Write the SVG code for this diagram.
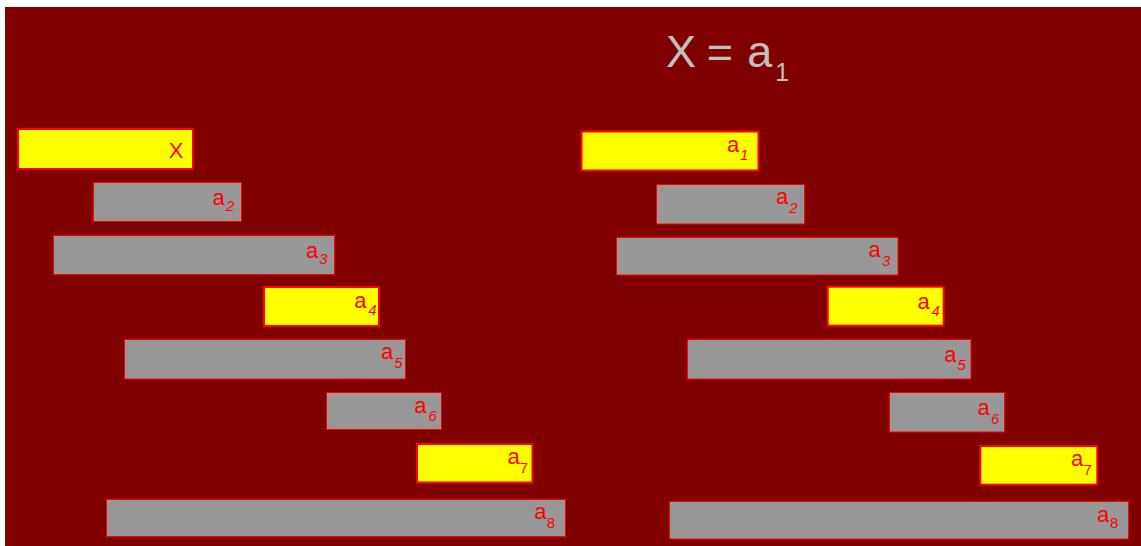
<svg xmlns="http://www.w3.org/2000/svg" width="1141" height="546" viewBox="0 0 1141 546">
<style>
.bg{fill:#800000}
.sel{fill:#ffff00;stroke:#ff0000;stroke-width:2}
.gr{fill:#979797;stroke:#ff0000;stroke-width:1}
.lb{font-family:"Liberation Sans",Arial,sans-serif;font-size:22px;fill:#ff0000}
.sb{font-size:15px;font-style:italic}
.su{font-size:15px}
.ti{font-family:"Liberation Sans",Arial,sans-serif;font-size:45px;fill:#c0c0c0}
</style>
<rect width="1141" height="546" fill="#ffffff"/>
<rect class="bg" x="5" y="7" width="1136" height="539"/>
<g id="title"><text class="ti"><tspan x="666" y="66.7">X</tspan><tspan x="706.7" y="66.7">=</tspan><tspan x="747.3" y="66.7">a</tspan><tspan x="775.3" y="81" font-size="25">1</tspan></text></g>
<g id="left">
<g id="L-X"><rect class="sel" x="18" y="129" width="175" height="40"/><text class="lb" x="168.8" y="158">X</text></g>
<g id="L-a2"><rect class="gr" x="93.5" y="182.5" width="148" height="39"/><text class="lb" x="212.5" y="205">a<tspan class="sb" x="226" y="211">2</tspan></text></g>
<g id="L-a3"><rect class="gr" x="53.5" y="235.5" width="281" height="39"/><text class="lb" x="306" y="257.7">a<tspan class="sb" x="319.3" y="264.3">3</tspan></text></g>
<g id="L-a4"><rect class="sel" x="264" y="287" width="115" height="39"/><text class="lb" x="354.2" y="308.3">a<tspan class="sb" x="368.3" y="315">4</tspan></text></g>
<g id="L-a5"><rect class="gr" x="124.5" y="339.5" width="281" height="39.5"/><text class="lb" x="381" y="359.3">a<tspan class="sb" x="394.3" y="368.3">5</tspan></text></g>
<g id="L-a6"><rect class="gr" x="326.5" y="392.5" width="115" height="37"/><text class="lb" x="414.2" y="413.3">a<tspan class="sb" x="428.6" y="420.7">6</tspan></text></g>
<g id="L-a7"><rect class="sel" x="417" y="444" width="115.5" height="38.5"/><text class="lb" x="507.5" y="464.3">a<tspan class="su" x="519.7" y="472.7">7</tspan></text></g>
<g id="L-a8"><rect class="gr" x="106.5" y="499.5" width="459" height="37"/><text class="lb" x="534.2" y="519.3">a<tspan class="su" x="546.7" y="528.3">8</tspan></text></g>
</g>
<g id="right">
<g id="R-a1"><rect class="sel" x="581.5" y="131.5" width="177" height="39"/><text class="lb" x="726.9" y="151.7">a<tspan class="sb" x="740" y="160">1</tspan></text></g>
<g id="R-a2"><rect class="gr" x="656.5" y="184.5" width="148" height="39.5"/><text class="lb" x="775.9" y="204">a<tspan class="sb" x="789.3" y="212.7">2</tspan></text></g>
<g id="R-a3"><rect class="gr" x="616.5" y="237.5" width="281.5" height="37.5"/><text class="lb" x="868.5" y="257.3">a<tspan class="sb" x="882" y="265.7">3</tspan></text></g>
<g id="R-a4"><rect class="sel" x="827.7" y="286.7" width="116" height="39"/><text class="lb" x="917.5" y="308.5">a<tspan class="sb" x="931.5" y="315.5">4</tspan></text></g>
<g id="R-a5"><rect class="gr" x="687.5" y="339.5" width="283.5" height="39.5"/><text class="lb" x="944.2" y="362">a<tspan class="sb" x="957.6" y="370">5</tspan></text></g>
<g id="R-a6"><rect class="gr" x="889.5" y="392.5" width="115" height="39.5"/><text class="lb" x="977.5" y="415.3">a<tspan class="sb" x="991" y="424">6</tspan></text></g>
<g id="R-a7"><rect class="sel" x="980.3" y="446" width="117" height="38.7"/><text class="lb" x="1071" y="466">a<tspan class="su" x="1083.5" y="474.5">7</tspan></text></g>
<g id="R-a8"><rect class="gr" x="669.5" y="501.5" width="459" height="37.5"/><text class="lb" x="1096.9" y="521.7">a<tspan class="su" x="1110" y="528.3">8</tspan></text></g>
</g>
</svg>
